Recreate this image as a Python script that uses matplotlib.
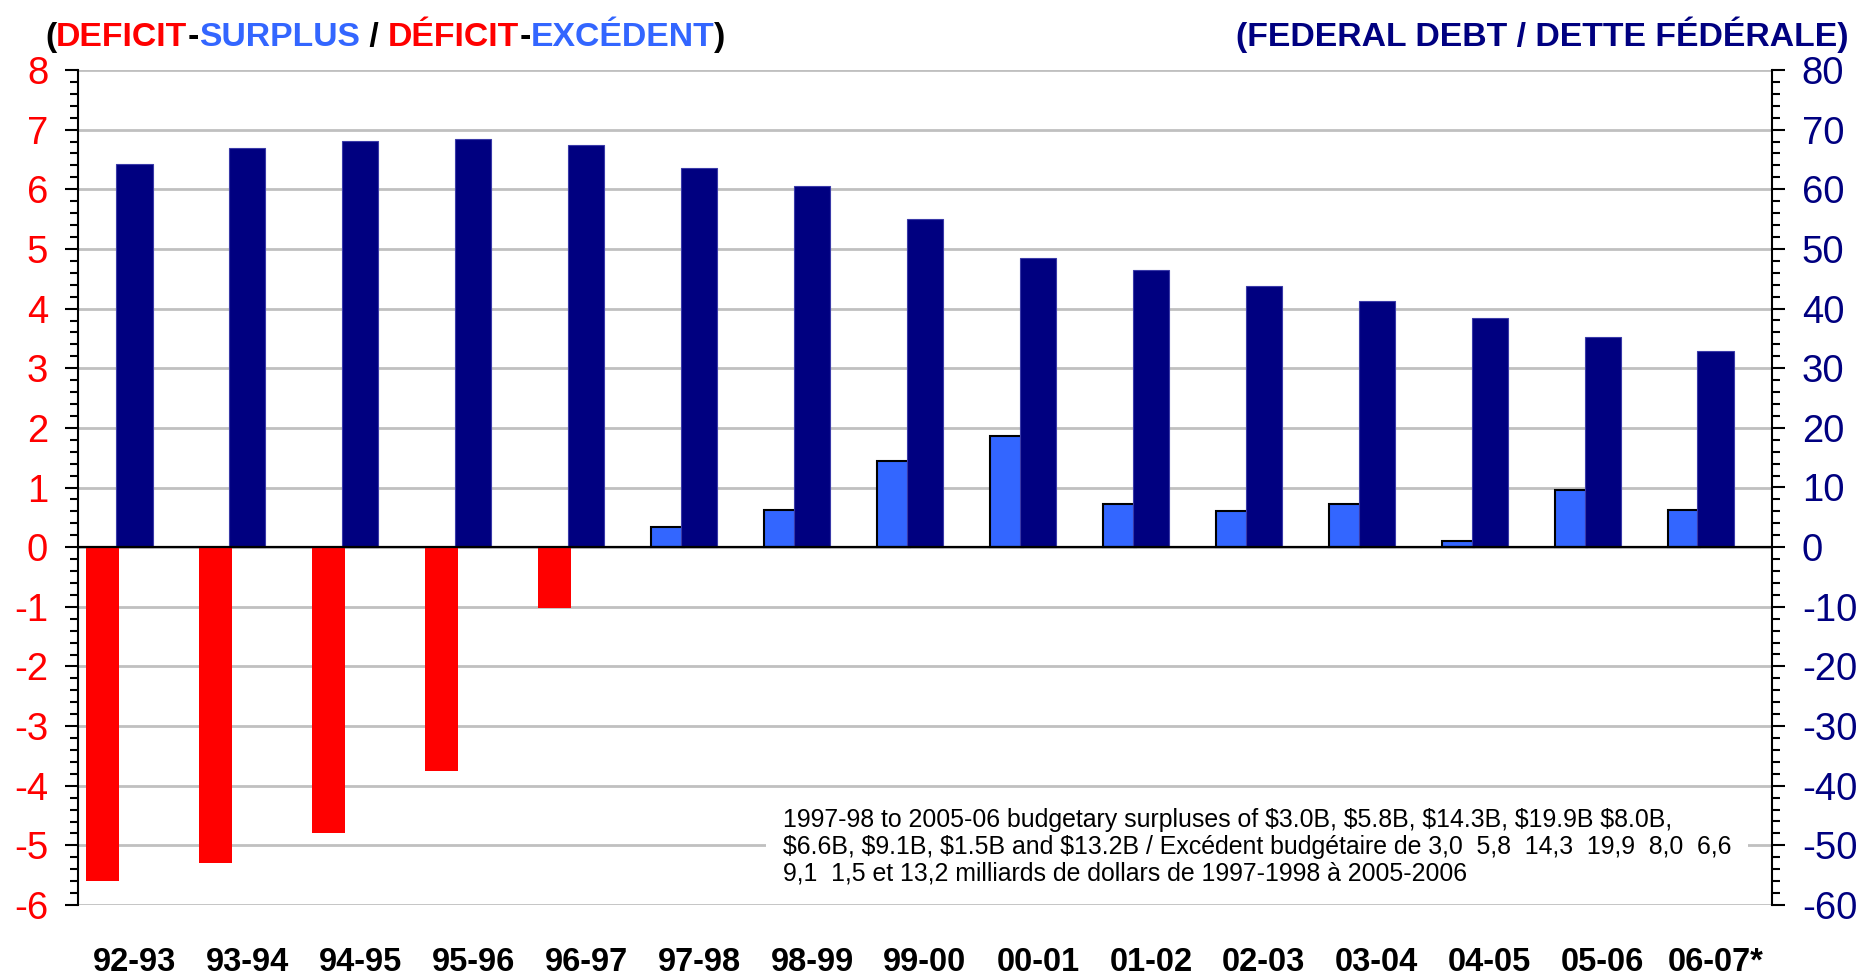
import matplotlib
matplotlib.use('Agg')
import matplotlib.pyplot as plt
import numpy as np
from matplotlib.ticker import MultipleLocator

# ---------------- data ----------------
categories = ['92-93', '93-94', '94-95', '95-96', '96-97', '97-98', '98-99', '99-00',
              '00-01', '01-02', '02-03', '03-04', '04-05', '05-06', '06-07*']
balance = [-5.6, -5.3, -4.8, -3.75, -1.02, 0.33, 0.62, 1.45, 1.87, 0.73, 0.6, 0.73, 0.1, 0.96, 0.62]
debt = [64.3, 67.0, 68.1, 68.5, 67.4, 63.6, 60.6, 55.0, 48.4, 46.4, 43.8, 41.2, 38.4, 35.2, 32.9]

left_title = [('(', 'black'), ('DEFICIT', '#FF0000'), ('-', 'black'), ('SURPLUS', '#3366FF'),
              (' / ', 'black'), ('DÉFICIT', '#FF0000'), ('-', 'black'), ('EXCÉDENT', '#3366FF'),
              (')', 'black')]
right_title = '(FEDERAL DEBT / DETTE FÉDÉRALE)'
note_lines = [
    '1997-98 to 2005-06 budgetary surpluses of $3.0B, $5.8B, $14.3B, $19.9B $8.0B,',
    '$6.6B, $9.1B, $1.5B and $13.2B / Excédent budgétaire de 3,0  5,8  14,3  19,9  8,0  6,6',
    '9,1  1,5 et 13,2 milliards de dollars de 1997-1998 à 2005-2006',
]

RED = '#FF0000'
BLUE = '#3366FF'
NAVY = '#000080'
GRID = '#C0C0C0'

plt.rcParams['font.family'] = ['Liberation Sans', 'DejaVu Sans']
plt.rcParams['axes.unicode_minus'] = False

W, H = 1862, 974
fig = plt.figure(figsize=(W / 100, H / 100), dpi=100)
ax = fig.add_axes([78 / W, 1 - 905 / H, (1772 - 78) / W, (905 - 70) / H])
ax2 = ax.twinx()

x = np.arange(len(categories))
bal_colors = [RED if v < 0 else BLUE for v in balance]
bal_edges = [RED if v < 0 else 'black' for v in balance]
bal_lw = [0 if v < 0 else 1.5 for v in balance]
ax.bar(x - 0.28, balance, width=0.29, color=bal_colors, edgecolor=bal_edges,
       linewidth=bal_lw, zorder=3)
ax2.bar(x, debt, width=0.32, color=NAVY, edgecolor='#3a3aa8', linewidth=0.8, zorder=3)

ax.set_xlim(-0.5, len(categories) - 0.5)
ax.set_ylim(-6, 8)
ax2.set_ylim(-60, 80)

ax.yaxis.set_major_locator(MultipleLocator(1))
ax.yaxis.set_minor_locator(MultipleLocator(0.2))
ax2.yaxis.set_major_locator(MultipleLocator(10))
ax2.yaxis.set_minor_locator(MultipleLocator(2))

ax.set_axisbelow(True)
ax.grid(axis='y', which='major', color=GRID, linewidth=2.0, zorder=0)
ax2.axhline(0, color='black', linewidth=1.6, zorder=6)

for s in ['top', 'bottom', 'right']:
    ax.spines[s].set_visible(False)
for s in ['top', 'bottom', 'left']:
    ax2.spines[s].set_visible(False)
ax.spines['left'].set_linewidth(1.5)
ax2.spines['right'].set_linewidth(1.5)

ax.set_xticks(x)
ax.set_xticklabels(categories, fontsize=23.5, fontweight='bold')
ax.tick_params(axis='x', length=0, pad=30)
ax.tick_params(axis='y', which='major', direction='out', length=9.5, width=1.5,
               labelsize=27.5, labelcolor=RED, pad=12)
ax.tick_params(axis='y', which='minor', direction='out', length=6, width=1.5)
ax2.tick_params(axis='y', which='major', direction='out', length=9.5, width=1.5,
                labelsize=27.5, labelcolor=NAVY, pad=12)
ax2.tick_params(axis='y', which='minor', direction='out', length=6, width=1.5)
ax.set_yticks(range(-6, 9))
ax.set_yticklabels([str(v) for v in range(-6, 9)])
ax2.set_yticks(range(-60, 81, 10))
ax2.set_yticklabels([str(v) for v in range(-60, 81, 10)])

# ---------------- titles ----------------
renderer = fig.canvas.get_renderer()
xpos = 45
ybase = 1 - 46 / H
for txt, col in left_title:
    t = fig.text(xpos / W, ybase, txt, color=col, fontsize=24.3, fontweight='bold',
                 ha='left', va='baseline')
    bb = t.get_window_extent(renderer=renderer)
    xpos = bb.x1

fig.text(1849 / W, ybase, right_title, color=NAVY, fontsize=24.3, fontweight='bold',
         ha='right', va='baseline')

# ---------------- note ----------------
fig.text(783 / W, 1 - 808 / H, '\n'.join(note_lines), fontsize=17.9, color='black',
         ha='left', va='top', linespacing=1.15, parse_math=False,
         bbox=dict(facecolor='white', edgecolor='none', pad=12), zorder=10)

fig.savefig('out.png', dpi=100)
